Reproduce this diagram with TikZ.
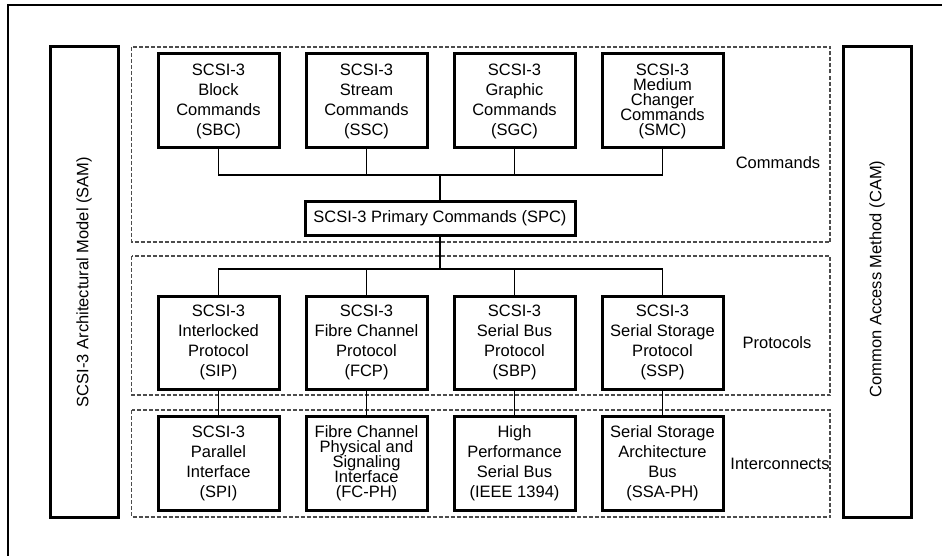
\documentclass[tikz,border=0pt]{standalone}
\usepackage{fontspec}
\setmainfont{Liberation Sans}
\begin{document}
\begin{tikzpicture}[x=1pt,y=-1pt,
  txt/.style={font=\fontsize{16.5}{20}\selectfont, inner sep=0pt},
  unit/.style={txt, draw, line width=3pt, minimum width=121pt, minimum height=94pt, align=center},
  spcbox/.style={txt, draw, line width=3pt, minimum width=270pt, minimum height=33pt},
  side/.style={draw, line width=3pt, minimum width=68pt, minimum height=470pt},
  layer/.style={draw=black!70, line width=1.1pt, dash pattern=on 4pt off 2pt},
  conn/.style={line width=1.1pt}]
\useasboundingbox (0,0) rectangle (942,556);
% outer frame (cropped)
\draw[line width=2.5pt] (8,556) -- (8,5) -- (942,5);
% side boxes
\node[side] (sam) at (84,282) {};
\node[txt, rotate=90] (samt) at (84,282) {SCSI-3 Architectural Model (SAM)};
\node[side] (cam) at (877,282) {};
\node[txt, rotate=90] (camt) at (877,279) {Common Access Method (CAM)};
% layers
\draw[layer] (131.5,47) rectangle (830,242);
\draw[layer] (131.5,256) rectangle (830,395);
\draw[layer] (131.5,410) rectangle (830,517);
\node[txt] (lcmd) at (778,163) {Commands};
\node[txt] (lprot) at (777,343) {Protocols};
\node[txt] (lint) at (780,464) {Interconnects};
% command boxes
\node[unit] (sbc) at (218.5,101) {SCSI-3\\Block\\Commands\\(SBC)};
\node[unit] (ssc) at (366.5,101) {SCSI-3\\Stream\\Commands\\(SSC)};
\node[unit] (sgc) at (514.5,101) {SCSI-3\\Graphic\\Commands\\(SGC)};
\node[unit] (smc) at (662.5,101) {SCSI-3\\[-5pt]Medium\\[-5pt]Changer\\[-5pt]Commands\\[-5pt](SMC)};
\node[spcbox] (spc) at (440,218.5) {SCSI-3 Primary Commands (SPC)};
% protocol boxes
\node[unit, minimum height=93pt] (sip) at (218.5,342.5) {SCSI-3\\Interlocked\\Protocol\\(SIP)};
\node[unit, minimum height=93pt] (fcp) at (366.5,342.5) {SCSI-3\\Fibre Channel\\Protocol\\(FCP)};
\node[unit, minimum height=93pt] (sbp) at (514.5,342.5) {SCSI-3\\Serial Bus\\Protocol\\(SBP)};
\node[unit, minimum height=93pt] (ssp) at (662.5,342.5) {SCSI-3\\Serial Storage\\Protocol\\(SSP)};
% interconnect boxes
\node[unit] (spi) at (218.5,463) {SCSI-3\\Parallel\\Interface\\(SPI)};
\node[unit] (fcph) at (366.5,463) {Fibre Channel\\[-5pt]Physical and\\[-5pt]Signaling\\[-5pt]Interface\\[-5pt](FC-PH)};
\node[unit] (ieee) at (514.5,463) {High\\Performance\\Serial Bus\\(IEEE 1394)};
\node[unit] (ssa) at (662.5,463) {Serial Storage\\Architecture\\Bus\\(SSA-PH)};
% command bus
\coordinate (cb) at (440,175);
\draw[conn] (sbc.south) |- (cb);
\draw[conn] (smc.south) |- (cb);
\draw[conn] (ssc.south) -- (ssc.south |- cb);
\draw[conn] (sgc.south) -- (sgc.south |- cb);
\draw[conn] (cb) -- (spc.north);
% protocol bus
\coordinate (pb) at (440,269);
\draw[conn] (spc.south) -- (pb);
\draw[conn] (sip.north) |- (pb);
\draw[conn] (ssp.north) |- (pb);
\draw[conn] (fcp.north) -- (fcp.north |- pb);
\draw[conn] (sbp.north) -- (sbp.north |- pb);
% protocol to interconnect
\draw[conn] (sip.south) -- (spi.north);
\draw[conn] (fcp.south) -- (fcph.north);
\draw[conn] (sbp.south) -- (ieee.north);
\draw[conn] (ssp.south) -- (ssa.north);
\end{tikzpicture}
\end{document}
